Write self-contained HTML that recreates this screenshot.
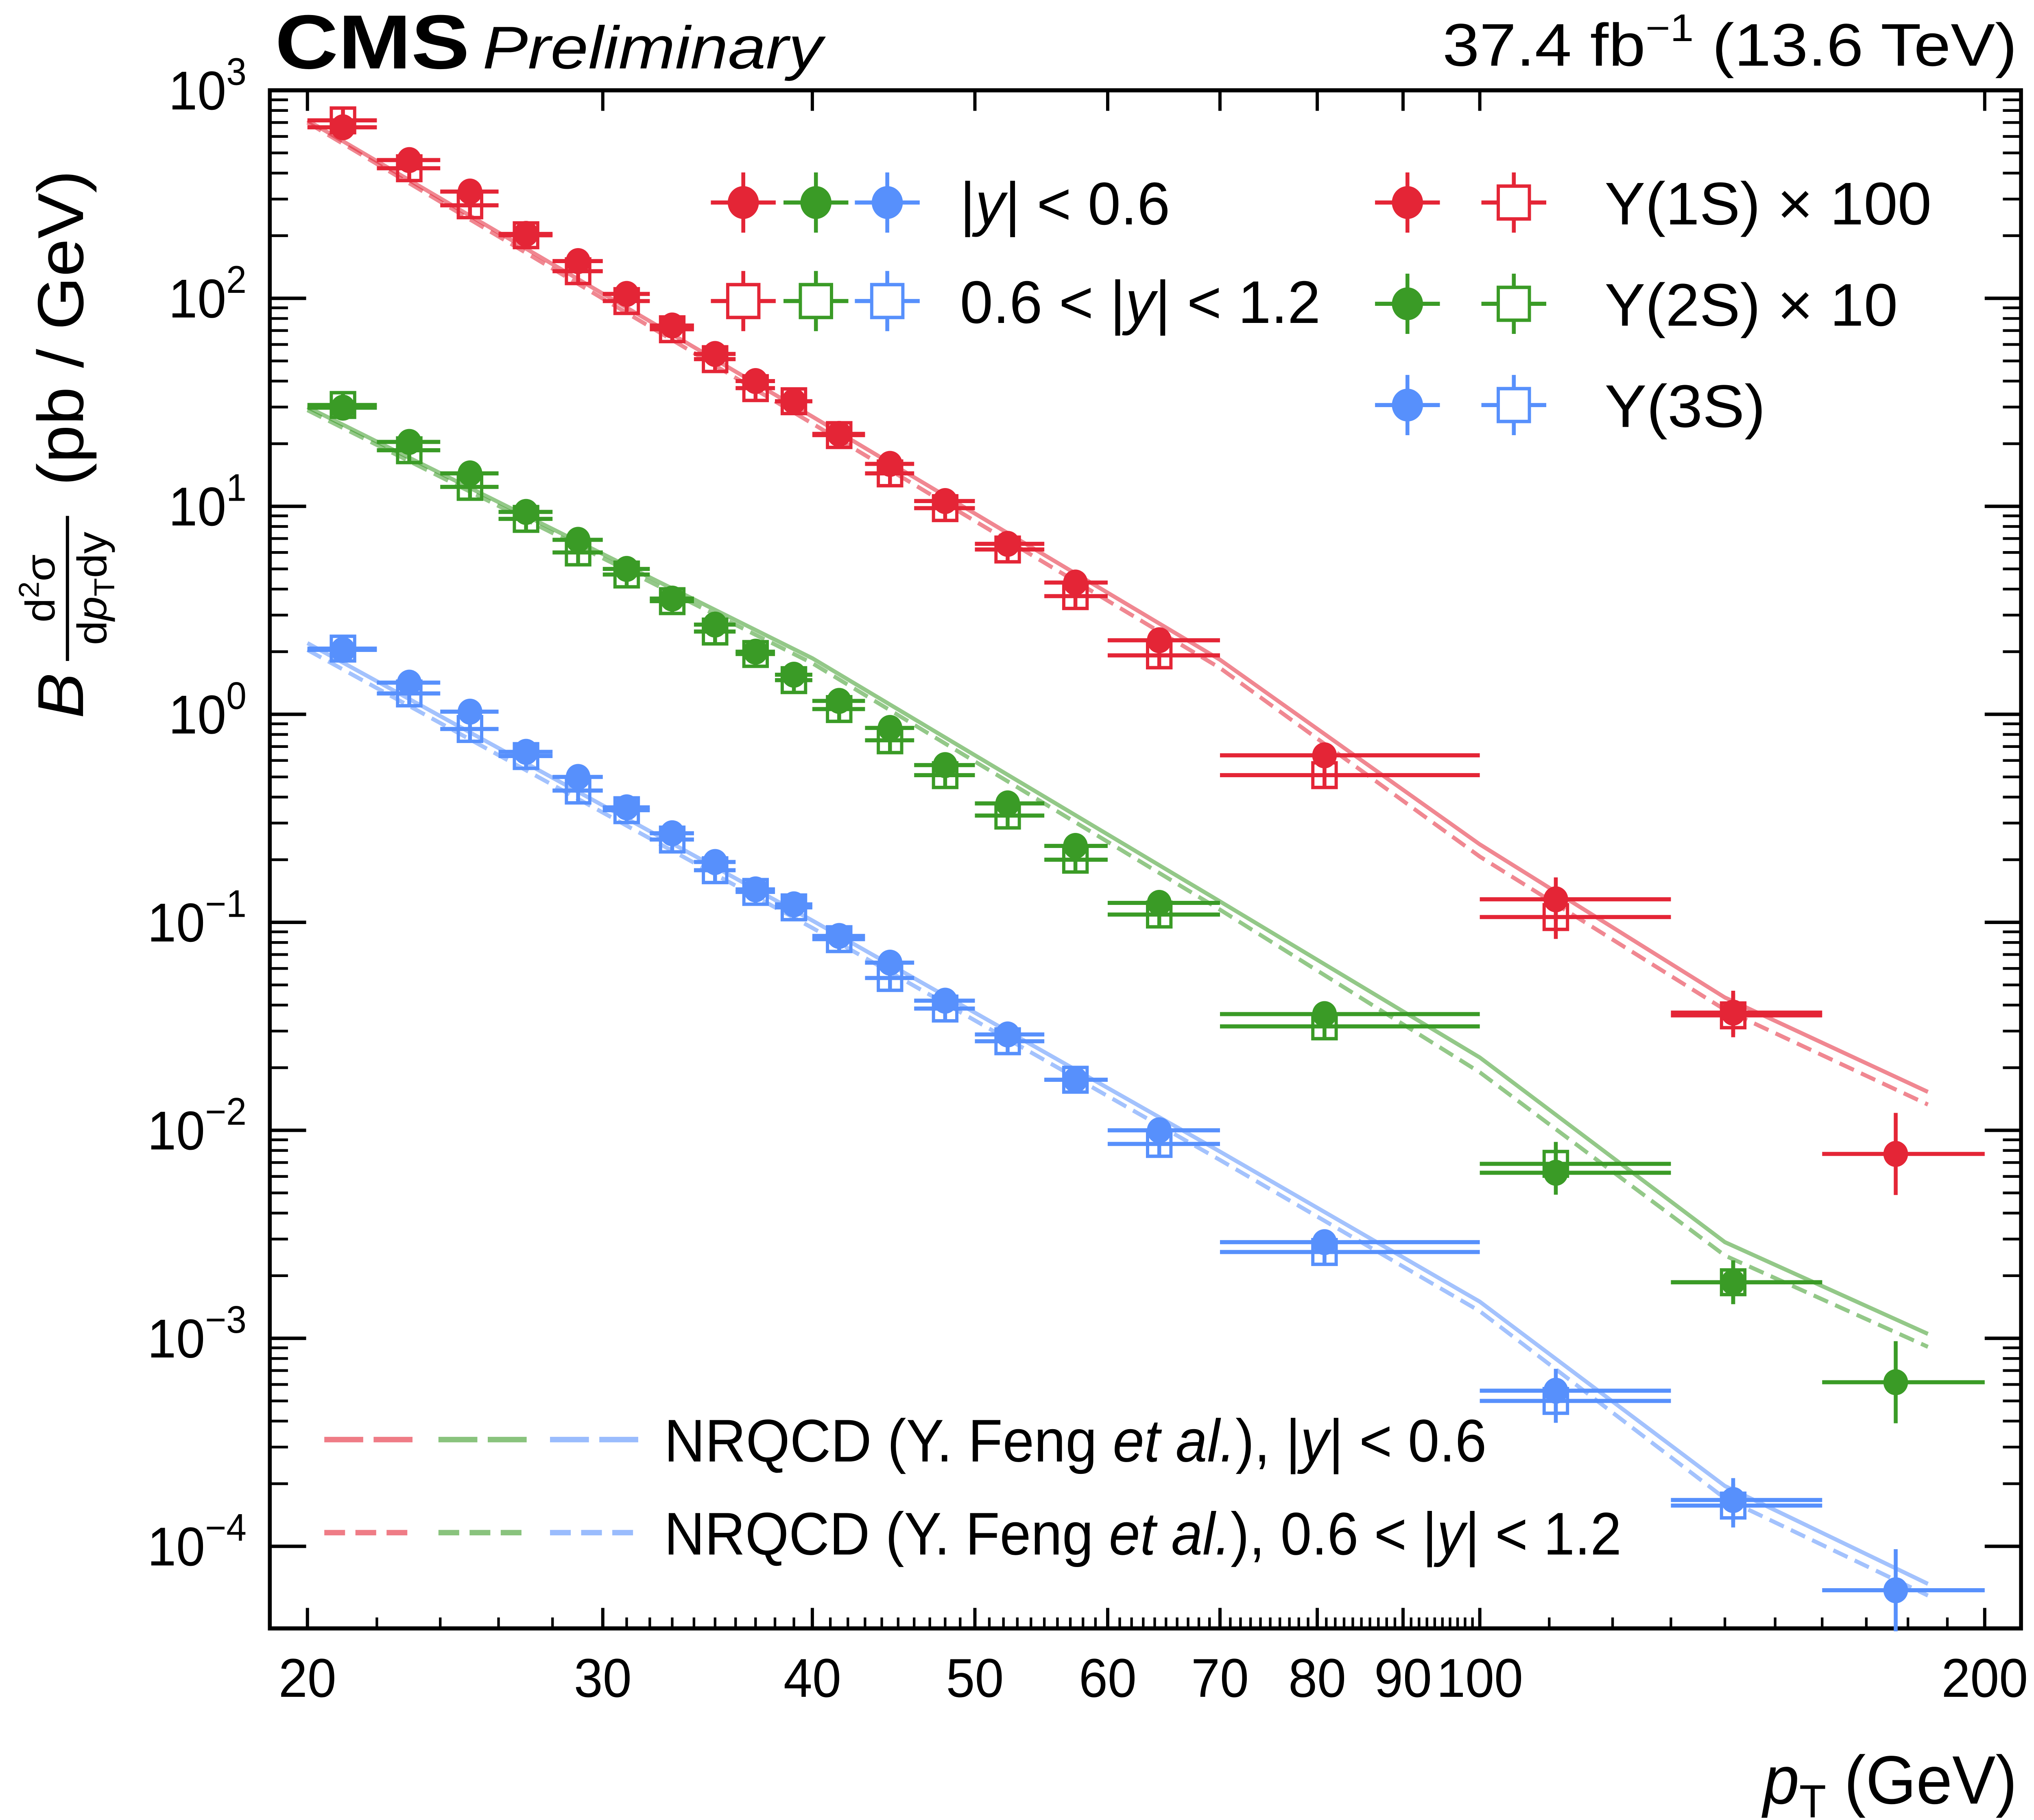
<!DOCTYPE html>
<html><head><meta charset="utf-8"><style>
html,body{margin:0;padding:0;background:#fff;width:100%;height:100%;overflow:hidden;}
svg{display:block;position:absolute;left:0;top:0;width:100vw;height:100vh;}
text{font-family:"Liberation Sans",sans-serif;fill:#000;}
</style></head><body>
<svg id="chart" viewBox="0 0 1568 1330" preserveAspectRatio="none" xmlns="http://www.w3.org/2000/svg">
<rect x="208" y="66" width="1350" height="1124" fill="none" stroke="#000" stroke-width="3"/>
<g id="ticks"></g>
<g id="marks"></g>
<text x="212" y="50" font-size="56" font-weight="bold" textLength="150" lengthAdjust="spacingAndGlyphs">CMS</text>
<text x="372" y="50" font-size="44" font-style="italic" textLength="262" lengthAdjust="spacingAndGlyphs">Preliminary</text>
<text x="1112" y="48" font-size="44" textLength="443" lengthAdjust="spacingAndGlyphs">37.4 fb<tspan dy="-18" font-size="28">−1</tspan><tspan dy="18"> (13.6 TeV)</tspan></text>
<text x="1555" y="1318" font-size="50" text-anchor="end"><tspan font-style="italic">p</tspan><tspan font-size="34" dy="10">T</tspan><tspan dy="-10"> (GeV)</tspan></text>
<g transform="translate(64,525) rotate(-90)">
<text x="0" y="0" font-size="50" font-style="italic">B</text>
<text x="95" y="-22" font-size="32" text-anchor="middle">d<tspan dy="-12" font-size="22">2</tspan><tspan dy="12">σ</tspan></text>
<line x1="42" y1="-12" x2="148" y2="-12" stroke="#000" stroke-width="2.5"/>
<text x="95" y="18" font-size="32" text-anchor="middle">d<tspan font-style="italic">p</tspan><tspan font-size="22" dy="6">T</tspan><tspan dy="-6">dy</tspan></text>
<text x="170" y="0" font-size="50">(pb / GeV)</text>
</g>
<g id="legend"></g>
</svg>
<script>
const binLo=[20,22,24,26,28,30,32,34,36,38,40,43,46,50,55,60,70,100,130,160];
const binHi=[22,24,26,28,30,32,34,36,38,40,43,46,50,55,60,70,100,130,160,200];
const ptMean=[21,23,25,27,29,31,33,35,37,39,41.5,44.5,48,52.3,57.4,64.4,80.8,111,141.6,177];
const y1sCentral=[664,462,326,204,151,105,74,54,40,32,22.3,16,10.6,6.6,4.3,2.27,0.635,0.129,0.0368,0.0077];
const y1sForward=[717,422,280,201,135,97,71,51,37,32,22,14.4,9.8,6.2,3.7,1.92,0.51,0.106,0.0357];
const y2sCentral=[29.8,20.4,14.4,9.4,6.9,5.0,3.6,2.7,2.0,1.55,1.16,0.86,0.57,0.373,0.233,0.124,0.0362,0.00625,0.00186,0.000615];
const y2sForward=[30.7,18.6,12.4,8.7,6.0,4.7,3.5,2.5,1.95,1.46,1.06,0.75,0.51,0.326,0.2,0.109,0.0316,0.0069,0.00186];
const y3sCentral=[2.04,1.42,1.03,0.66,0.50,0.357,0.268,0.195,0.144,0.122,0.086,0.064,0.042,0.0289,0.0175,0.0100,0.0029,0.00056,0.000167,0.0000615];
const y3sForward=[2.07,1.26,0.85,0.63,0.43,0.346,0.25,0.178,0.14,0.118,0.083,0.054,0.0385,0.0268,0.0175,0.0086,0.0026,0.0005,0.000157];
const thPt=[20,40,70,100,140,185];
const th1sC=[717,27,1.83,0.237,0.0435,0.0153];
const th1sF=[700,25,1.67,0.207,0.038,0.0133];
const th2sC=[30,1.86,0.126,0.0224,0.0029,0.00105];
const th2sF=[29,1.76,0.115,0.019,0.0025,0.00091];
const th3sC=[2.2,0.102,0.0079,0.0015,0.000195,0.000066];
const th3sF=[2.04,0.094,0.0072,0.00135,0.00017,0.000058];
const xTicks=[20,30,40,50,60,70,80,90,100,200];
const yDecades=[-4,-3,-2,-1,0,1,2,3];

const NS="http://www.w3.org/2000/svg";
function X(p){return 237+1293*Math.log10(p/20);}
function Y(v){return 66+(3-Math.log10(v))*152;}
function mk(tag,attrs,parent){const e=document.createElementNS(NS,tag);for(const k in attrs)e.setAttribute(k,attrs[k]);parent.appendChild(e);return e;}
const T=document.getElementById('ticks'),M=document.getElementById('marks'),L=document.getElementById('legend');
for(let p=20;p<=200;p+=(p<100?10:100)){const x=X(p);
 const a=mk('line',{x1:x,y1:1190,x2:x,y2:1175,stroke:'#000','stroke-width':2.5},T);
 
 
 const b=mk('line',{x1:x,y1:66,x2:x,y2:81,stroke:'#000','stroke-width':2.5},T);
 
 }
for(let p=21;p<200;p++){if(p%10===0&&p<=100)continue;if(p>100&&p%10!==0)continue;if(p<30&&p%2)continue;
 const x=X(p);const m=mk('line',{x1:x,y1:1190,x2:x,y2:1182,stroke:'#000','stroke-width':2},T);
 
 }
xTicks.forEach(p=>{const t=mk('text',{x:X(p),y:1240,'font-size':40,'text-anchor':'middle'},T);t.textContent=p;
 
 });
yDecades.forEach(d=>{const y=Y(Math.pow(10,d));
 const a=mk('line',{x1:208,y1:y,x2:236,y2:y,stroke:'#000','stroke-width':2.5},T);
 
 
 const b=mk('line',{x1:1558,y1:y,x2:1530,y2:y,stroke:'#000','stroke-width':2.5},T);
 
 
 for(let k=2;k<10;k++){const yy=Y(k*Math.pow(10,d));if(yy<66)continue;
  const c=mk('line',{x1:208,y1:yy,x2:222,y2:yy,stroke:'#000','stroke-width':2},T);
  
  
  const c2=mk('line',{x1:1558,y1:yy,x2:1544,y2:yy,stroke:'#000','stroke-width':2},T);
  
  }
 const t=mk('text',{x:190,y:y+14,'font-size':40,'text-anchor':'end'},T);
 t.innerHTML='10<tspan dy="-18" font-size="28">'+(d<0?'−'+(-d):d)+'</tspan>';
 
 });
const RED='#e42536',GRN='#3a9b26',BLU='#5790fc';
function theory(arr,col,dash,name){const pts=thPt.map((p,i)=>X(p)+','+Y(arr[i])).join(' ');
 const l=mk('polyline',{points:pts,fill:'none',stroke:col,'stroke-opacity':0.55,'stroke-width':3,'stroke-dasharray':dash?'12,6':'none'},M);
 
 }
theory(th1sC,RED,false,'nrqcd-1s-central');theory(th1sF,RED,true,'nrqcd-1s-forward');
theory(th2sC,GRN,false,'nrqcd-2s-central');theory(th2sF,GRN,true,'nrqcd-2s-forward');
theory(th3sC,BLU,false,'nrqcd-3s-central');theory(th3sF,BLU,true,'nrqcd-3s-forward');
function marker(g,x,y,col,open,err){
 mk('line',{x1:x,y1:y-err,x2:x,y2:y+err,stroke:col,'stroke-width':3},g);
 if(open){mk('rect',{x:x-9,y:y-9,width:18,height:18,fill:'none',stroke:col,'stroke-width':2.5},g);}
 else mk('circle',{cx:x,cy:y,r:9.5,fill:col},g);}
function series(arr,col,open,name){arr.forEach((v,i)=>{const g=mk('g',{},M);
 
 
 const y=Y(v),x=X(ptMean[i]);
 mk('line',{x1:X(binLo[i]),y1:y,x2:X(binHi[i]),y2:y,stroke:col,'stroke-width':3},g);
 marker(g,x,y,col,open,i>16?(i>=19?30:16):8);});}
series(y1sForward,RED,true,'y1s-forward');series(y1sCentral,RED,false,'y1s-central');
series(y2sForward,GRN,true,'y2s-forward');series(y2sCentral,GRN,false,'y2s-central');
series(y3sForward,BLU,true,'y3s-forward');series(y3sCentral,BLU,false,'y3s-central');
function lmark(x,y,col,open,name){const g=mk('g',{},L);
 
 
 mk('line',{x1:x-25,y1:y,x2:x+25,y2:y,stroke:col,'stroke-width':3},g);
 mk('line',{x1:x,y1:y-22,x2:x,y2:y+22,stroke:col,'stroke-width':3},g);
 if(open){mk('rect',{x:x-12,y:y-12,width:24,height:24,fill:'#fff',stroke:col,'stroke-width':2.5},g);}
 else{mk('circle',{cx:x,cy:y,r:12,fill:col},g);}}
[[573,RED],[629,GRN],[684,BLU]].forEach(([x,c])=>{lmark(x,148,c,false,'legend-central-marker');lmark(x,220,c,true,'legend-forward-marker');});
[[148,RED],[222,GRN],[296,BLU]].forEach(([y,c])=>{lmark(1085,y,c,false,'legend-state-filled');lmark(1167,y,c,true,'legend-state-open');});
function ltext(x,y,html,name,len){const t=mk('text',{x:x,y:y,'font-size':44},L);t.innerHTML=html;
 if(len){t.setAttribute('textLength',len);t.setAttribute('lengthAdjust','spacingAndGlyphs');}
 
 }
ltext(740,164,'|<tspan font-style="italic">y</tspan>| &lt; 0.6','legend-central-label',162);
ltext(740,236,'0.6 &lt; |<tspan font-style="italic">y</tspan>| &lt; 1.2','legend-forward-label',278);
ltext(1237,164,'Υ(1S) × 100','legend-1s-label',252);
ltext(1237,238,'Υ(2S) × 10','legend-2s-label',226);
ltext(1237,312,'Υ(3S)','legend-3s-label',124);
[[250,RED],[338,GRN],[424,BLU]].forEach(([x,c])=>{
 const a=mk('line',{x1:x,y1:1052,x2:x+68,y2:1052,stroke:c,'stroke-opacity':0.6,'stroke-width':4,'stroke-dasharray':'30,8'},L);
 
 
 const b=mk('line',{x1:x,y1:1120,x2:x+68,y2:1120,stroke:c,'stroke-opacity':0.6,'stroke-width':4,'stroke-dasharray':'16,8'},L);
 
 });
ltext(512,1068,'NRQCD (Y. Feng <tspan font-style="italic">et al.</tspan>), |<tspan font-style="italic">y</tspan>| &lt; 0.6','legend-nrqcd-central-label',634);
ltext(512,1136,'NRQCD (Y. Feng <tspan font-style="italic">et al.</tspan>), 0.6 &lt; |<tspan font-style="italic">y</tspan>| &lt; 1.2','legend-nrqcd-forward-label',738);
</script>
</body></html>
